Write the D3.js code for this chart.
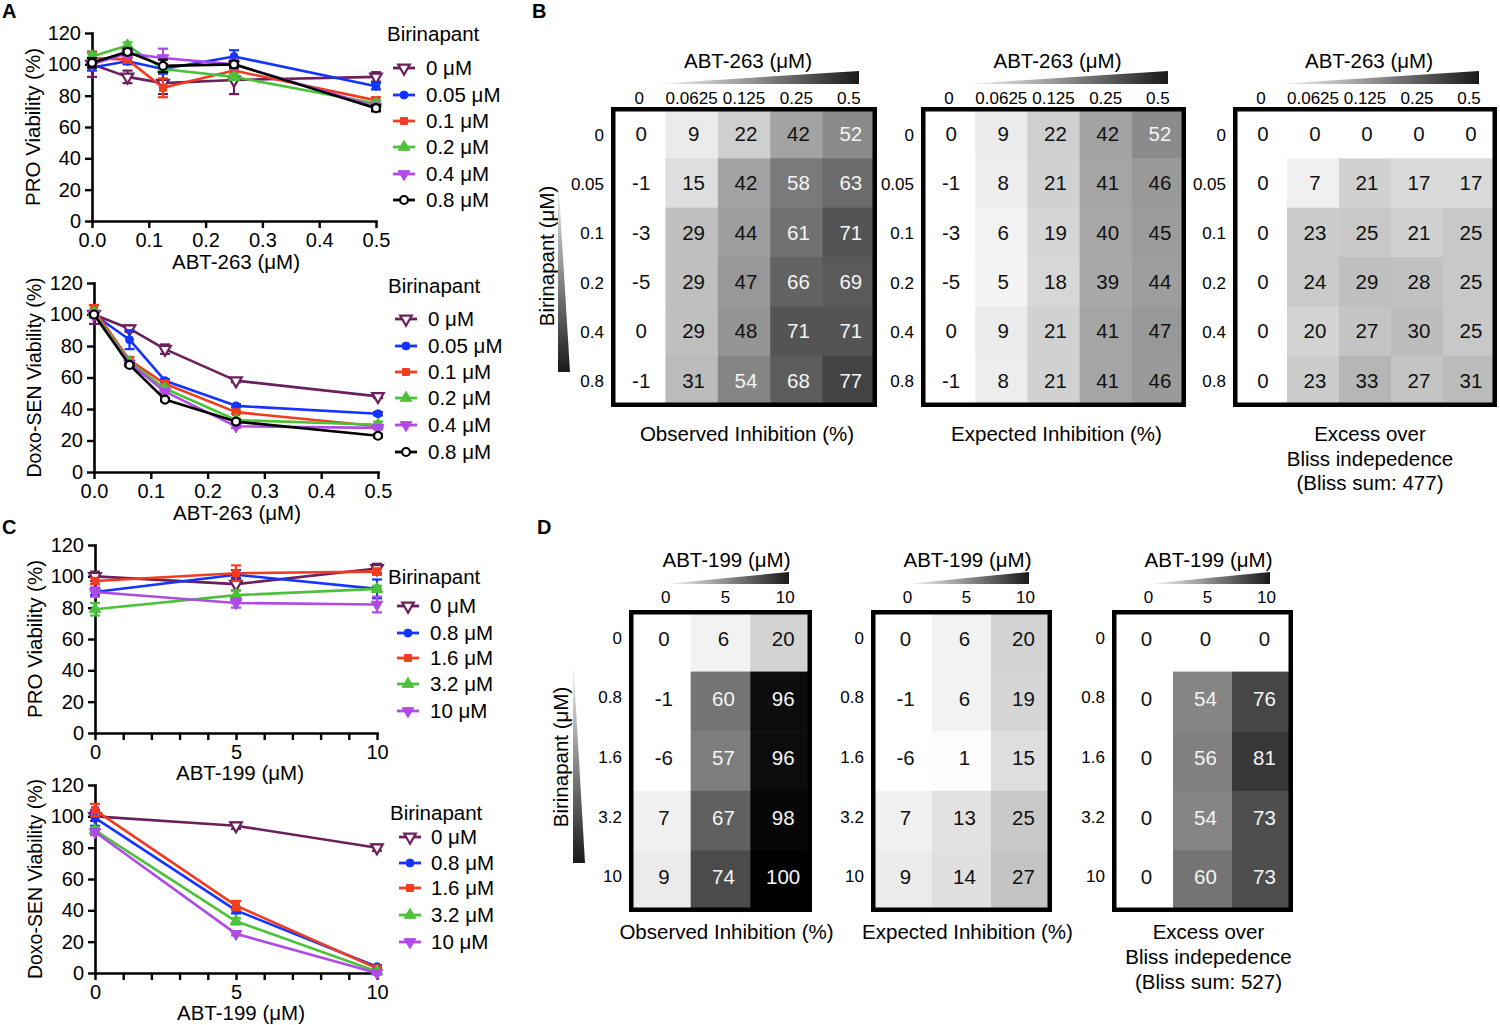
<!DOCTYPE html>
<html><head><meta charset="utf-8">
<script src="https://cdn.jsdelivr.net/npm/d3@7"></script>
<style>
body{margin:0;background:#fff;}
svg{display:block;}
</style></head><body>
<svg id="fig" width="1500" height="1025"></svg>
<script>
// ---------------- DATA ----------------
const abt263 = [0, 0.0625, 0.125, 0.25, 0.5];
const abt199 = [0, 5, 10];
const birinapantA = ["0 μM","0.05 μM","0.1 μM","0.2 μM","0.4 μM","0.8 μM"];
const birinapantC = ["0 μM","0.8 μM","1.6 μM","3.2 μM","10 μM"];
const yTicks = [0,20,40,60,80,100,120];
const abt263Ticks = [0,0.1,0.2,0.3,0.4,0.5];
const abt199Ticks = [0,1,2,3,4,5,6,7,8,9,10];
const abt199Labeled = [0,5,10];

const proA = [
 [100, 92, 88, 90, 92],
 [98, 102, 97, 105, 86],
 [104, 103, 85, 96, 77],
 [105, 112, 97, 92, 75],
 [100, 107, 104, 100, 73],
 [101, 108, 99, 100, 72]
];
const proAErr = [
 [8, 4, 7, 9, 3],
 [2, 2, 3, 4, 2],
 [4, 2, 6, 5, 2],
 [2, 2, 2, 2, 2],
 [2, 2, 6, 3, 2],
 [3, 2, 4, 2, 2]
];
const senA = [
 [100, 91, 78, 58, 48],
 [100, 84, 58, 42, 37],
 [103, 71, 56, 38, 29],
 [101, 70, 53, 33, 30],
 [100, 69, 51, 29, 28],
 [100, 68, 46, 32, 23]
];
const senAErr = [
 [6, 2, 3, 1, 1],
 [2, 6, 1, 1, 1],
 [3, 2, 2, 1, 1],
 [2, 1, 1, 1, 2],
 [2, 1, 1, 1, 1],
 [1, 1, 1, 1, 1]
];
const proC = [
 [100, 95, 105],
 [90, 101, 92],
 [97, 102, 103],
 [79, 88, 92],
 [90, 83, 82]
];
const proCErr = [[3,4,3],[2,3,6],[2,5,2],[4,3,2],[3,3,5]];
const senC = [
 [100, 94, 80],
 [99, 40, 4],
 [104, 43, 3],
 [91, 33, 1],
 [90, 25, 0]
];
const senCErr = [[3,2,2],[5,2,1],[4,3,1],[2,2,1],[2,1,1]];

const colorsA = ["#6b1f5c","#1434ff","#f03c1f","#4cc23a","#b04ae6","#000000"];
const markersA = ["tri-down-open","circle","square","triangle","tri-down","circle-open"];
const colorsC = ["#6b1f5c","#1434ff","#f03c1f","#4cc23a","#b04ae6"];
const markersC = ["tri-down-open","circle","square","triangle","tri-down"];

// heatmap data
const abt263Labels = ["0","0.0625","0.125","0.25","0.5"];
const birBLabels = ["0","0.05","0.1","0.2","0.4","0.8"];
const abt199Labels = ["0","5","10"];
const birDLabels = ["0","0.8","1.6","3.2","10"];

const obsB = [
 [0,9,22,42,52],
 [-1,15,42,58,63],
 [-3,29,44,61,71],
 [-5,29,47,66,69],
 [0,29,48,71,71],
 [-1,31,54,68,77]
];
const expB = [
 [0,9,22,42,52],
 [-1,8,21,41,46],
 [-3,6,19,40,45],
 [-5,5,18,39,44],
 [0,9,21,41,47],
 [-1,8,21,41,46]
];
const excB = [
 [0,0,0,0,0],
 [0,7,21,17,17],
 [0,23,25,21,25],
 [0,24,29,28,25],
 [0,20,27,30,25],
 [0,23,33,27,31]
];
const obsD = [[0,6,20],[-1,60,96],[-6,57,96],[7,67,98],[9,74,100]];
const expD = [[0,6,20],[-1,6,19],[-6,1,15],[7,13,25],[9,14,27]];
const excD = [[0,0,0],[0,54,76],[0,56,81],[0,54,73],[0,60,73]];

// ---------------- DRAWING ----------------
const FONT = "'Liberation Sans', Arial, Helvetica, sans-serif";
const svg = d3.select("#fig").attr("font-family", FONT);

const defs = svg.append("defs");
const hg = defs.append("linearGradient").attr("id","hgrad").attr("x1",0).attr("x2",1).attr("y1",0).attr("y2",0);
hg.append("stop").attr("offset","0").attr("stop-color","#ffffff");
hg.append("stop").attr("offset","1").attr("stop-color","#1a1a1a");
const vg = defs.append("linearGradient").attr("id","vgrad").attr("x1",0).attr("x2",0).attr("y1",0).attr("y2",1);
vg.append("stop").attr("offset","0").attr("stop-color","#ffffff");
vg.append("stop").attr("offset","1").attr("stop-color","#1a1a1a");

function drawMarker(g, type, color, cx, cy){
  const open = type.endsWith("open");
  const down = type.startsWith("tri-down");
  let sym = d3.symbolCircle, size = 50;
  if (type === "square") { sym = d3.symbolSquare; size = 48; }
  else if (type === "triangle" || down) { sym = d3.symbolTriangle; size = 58; }
  g.append("path").attr("d", d3.symbol(sym, size)())
   .attr("transform", `translate(${cx},${cy})${down ? " rotate(180)" : ""}`)
   .attr("fill", open ? "#ffffff" : color)
   .attr("stroke", color).attr("stroke-width", open ? 2.2 : 1);
}

function lineChart(c){
  const g = svg.append("g");
  const x = d3.scaleLinear().domain(c.xDomain).range([c.x0, c.x1]);
  const y = d3.scaleLinear().domain([0,120]).range([c.y0, c.y1]);
  const ax = g.append("g").attr("transform",`translate(0,${c.y0})`)
    .call(d3.axisBottom(x).tickValues(c.xTicks).tickFormat(c.xFmt).tickSize(7).tickSizeOuter(0).tickPadding(5));
  const ay = g.append("g").attr("transform",`translate(${c.x0},0)`)
    .call(d3.axisLeft(y).tickValues(yTicks).tickSize(7).tickSizeOuter(0).tickPadding(4));
  [ax, ay].forEach(a => {
    a.attr("font-family", FONT).attr("font-size", 20);
    a.select(".domain").attr("stroke","#000").attr("stroke-width",2.6).attr("stroke-linecap","square");
    a.selectAll(".tick line").attr("stroke","#000").attr("stroke-width",2.4);
    a.selectAll(".tick text").attr("fill","#000");
  });
  g.append("text").attr("x", c.xTitleX).attr("y", c.xTitleY).attr("dy","0.35em")
    .attr("text-anchor","middle").attr("font-size",20.5).text(c.xTitle);
  g.append("text").attr("transform",`translate(${c.yTitleX},${(c.y0+c.y1)/2}) rotate(-90)`)
    .attr("dy","0.35em").attr("text-anchor","middle").attr("font-size",c.yTitleSize || 20.5).text(c.yTitle);

  const line = d3.line().x(d => x(d[0])).y(d => y(d[1]));
  c.values.forEach((vals, s) => {
    const col = c.colors[s];
    const pts = c.xVals.map((xv, i) => [xv, vals[i], c.errs[s][i]]);
    g.append("path").attr("d", line(pts)).attr("fill","none").attr("stroke",col)
      .attr("stroke-width",2.6).attr("stroke-linejoin","round");
    pts.forEach(p => {
      const px = x(p[0]), ya = y(p[1]-p[2]), yb = y(p[1]+p[2]);
      g.append("line").attr("x1",px).attr("x2",px).attr("y1",ya).attr("y2",yb).attr("stroke",col).attr("stroke-width",2.2);
      [ya, yb].forEach(yy => g.append("line").attr("x1",px-5).attr("x2",px+5).attr("y1",yy).attr("y2",yy)
        .attr("stroke",col).attr("stroke-width",2.2));
    });
    pts.forEach(p => drawMarker(g, c.markers[s], col, x(p[0]), y(p[1])));
  });

  // legend
  const lg = g.append("g");
  lg.append("text").attr("x", c.legX).attr("y", c.legTitleY).attr("dy","0.35em").attr("font-size",20.5).text("Birinapant");
  c.labels.forEach((lab, i) => {
    const yy = c.legYs[i], col = c.colors[i];
    lg.append("line").attr("x1", c.legMX-11).attr("x2", c.legMX+11).attr("y1", yy).attr("y2", yy)
      .attr("stroke", col).attr("stroke-width", 2.8);
    drawMarker(lg, c.markers[i], col, c.legMX, yy);
    lg.append("text").attr("x", c.legTX).attr("y", yy).attr("dy","0.35em").attr("font-size",20.5).text(lab);
  });
}

const fmt1 = d3.format(".1f");
const fmt199 = d => abt199Labeled.includes(d) ? String(d) : "";

lineChart({x0:92, x1:376, y0:221, y1:33, xDomain:[0,0.5], xTicks:abt263Ticks, xFmt:fmt1,
  xTitle:"ABT-263 (μM)", xTitleX:236, xTitleY:262, yTitle:"PRO Viability (%)", yTitleX:33,
  xVals:abt263, values:proA, errs:proAErr, colors:colorsA, markers:markersA, labels:birinapantA,
  legX:387, legTitleY:34, legMX:404, legTX:426, legYs:[68,95,121,147,174,200]});

lineChart({x0:94, x1:378, y0:472, y1:283, xDomain:[0,0.5], xTicks:abt263Ticks, xFmt:fmt1,
  xTitle:"ABT-263 (μM)", xTitleX:237, xTitleY:513, yTitle:"Doxo-SEN Viability (%)", yTitleX:34, yTitleSize:19.5,
  xVals:abt263, values:senA, errs:senAErr, colors:colorsA, markers:markersA, labels:birinapantA,
  legX:388, legTitleY:286, legMX:406, legTX:428, legYs:[319,346,372,398,425,452]});

lineChart({x0:95, x1:377, y0:733, y1:545, xDomain:[0,10], xTicks:abt199Ticks, xFmt:fmt199,
  xTitle:"ABT-199 (μM)", xTitleX:240, xTitleY:773, yTitle:"PRO Viability (%)", yTitleX:35,
  xVals:abt199, values:proC, errs:proCErr, colors:colorsC, markers:markersC, labels:birinapantC,
  legX:388, legTitleY:577, legMX:408, legTX:430, legYs:[606,633,658,684,711]});

lineChart({x0:95, x1:377, y0:973, y1:785, xDomain:[0,10], xTicks:abt199Ticks, xFmt:fmt199,
  xTitle:"ABT-199 (μM)", xTitleX:241, xTitleY:1013, yTitle:"Doxo-SEN Viability (%)", yTitleX:35, yTitleSize:19.5,
  xVals:abt199, values:senC, errs:senCErr, colors:colorsC, markers:markersC, labels:birinapantC,
  legX:390, legTitleY:813, legMX:410, legTX:431, legYs:[837,863,888,915,942]});

// ---------- heatmaps ----------
const grayLevel = d3.scaleLinear().domain([0,50,100]).range([255,145,0]).clamp(true);
const gray = v => { const g = Math.round(grayLevel(v)); return `rgb(${g},${g},${g})`; };

function heatmap(c){
  const g = svg.append("g");
  const nR = c.data.length, nC = c.data[0].length;
  const xb = d3.scaleBand().domain(d3.range(nC)).range([c.left+2, c.right-2]);
  const yb = d3.scaleBand().domain(d3.range(nR)).range([c.top+2, c.bottom-2]);
  const cells = c.data.flatMap((row, r) => row.map((v, k) => ({r, k, v})));
  g.selectAll("rect.cell").data(cells).join("rect").attr("class","cell")
    .attr("x", d => xb(d.k)).attr("y", d => yb(d.r))
    .attr("width", xb.bandwidth()+0.6).attr("height", yb.bandwidth()+0.6)
    .attr("fill", d => gray(d.v));
  g.selectAll("text.val").data(cells).join("text").attr("class","val")
    .attr("x", d => xb(d.k) + xb.bandwidth()/2 + c.valDx)
    .attr("y", d => yb(d.r) + yb.bandwidth()/2 + c.valDy)
    .attr("dy","0.35em").attr("text-anchor","middle").attr("font-size",20.5)
    .attr("fill", d => d.v >= 50 ? "#f4f4f4" : "#111")
    .text(d => d.v);
  g.append("rect").attr("x", c.left+2.25).attr("y", c.top+2.25)
    .attr("width", c.right-c.left-4.5).attr("height", c.bottom-c.top-4.5)
    .attr("fill","none").attr("stroke","#000").attr("stroke-width",4.5);
  // column labels
  g.selectAll("text.col").data(c.colLabels).join("text").attr("class","col")
    .attr("x", (d,i) => xb(i) + xb.bandwidth()/2 + c.colDx).attr("y", c.colY)
    .attr("dy","0.35em").attr("text-anchor","middle").attr("font-size",c.colSize).text(d => d);
  // row labels
  g.selectAll("text.row").data(c.rowLabels).join("text").attr("class","row")
    .attr("x", c.left-7).attr("y", (d,i) => yb(i) + yb.bandwidth()/2 + c.rowDy)
    .attr("dy","0.35em").attr("text-anchor","end").attr("font-size",17).text(d => d);
  // title + wedge
  const cx = (c.left+c.right)/2;
  g.append("text").attr("x", cx + c.titleDx).attr("y", c.titleY).attr("dy","0.35em")
    .attr("text-anchor","middle").attr("font-size",20.5).text(c.title);
  const wl = c.left + c.wedgeL, wr = c.right - c.wedgeR;
  g.append("path").attr("d", `M${wl},${c.wedgeB} L${wr},${c.wedgeB} L${wr},${c.wedgeB - c.wedgeH} Z`)
    .attr("fill","url(#hgrad)");
  // captions
  c.caption.forEach((t, i) => g.append("text").attr("x", cx + c.capDx).attr("y", c.capY + i*c.capStep)
    .attr("dy","0.35em").attr("text-anchor","middle").attr("font-size",20.5).text(t));
}

const bLefts = [611, 921, 1233], bRights = [877, 1186, 1497];
const bData = [obsB, expB, excB];
const bCaps = [["Observed Inhibition (%)"],["Expected Inhibition (%)"],["Excess over","Bliss indepedence","(Bliss sum: 477)"]];
bData.forEach((d, i) => heatmap({
  left:bLefts[i], right:bRights[i], top:107, bottom:407, data:d,
  colLabels:abt263Labels, rowLabels:birBLabels, colY:98, colDx:0, colSize:17, rowDy:1,
  valDx:2, valDy:0, title:"ABT-263 (μM)", titleY:61, titleDx:4,
  wedgeL:42, wedgeR:18, wedgeB:84, wedgeH:13,
  caption:bCaps[i], capY:434, capStep:24.5, capDx:i===2?5:3
}));

const dLefts = [629, 871, 1112], dRights = [812, 1052, 1293];
const dData = [obsD, expD, excD];
const dCaps = [["Observed Inhibition (%)"],["Expected Inhibition (%)"],["Excess over","Bliss indepedence","(Bliss sum: 527)"]];
dData.forEach((d, i) => heatmap({
  left:dLefts[i], right:dRights[i], top:610, bottom:912, data:d,
  colLabels:abt199Labels, rowLabels:birDLabels, colY:597, colDx:5, colSize:17, rowDy:-4,
  valDx:3, valDy:-3, title:"ABT-199 (μM)", titleY:560, titleDx:6,
  wedgeL:35, wedgeR:23, wedgeB:584, wedgeH:12,
  caption:dCaps[i], capY:932, capStep:25, capDx:6
}));

// vertical Birinapant labels + wedges
function vLabel(x, y, wx, wy0, wy1){
  svg.append("text").attr("transform",`translate(${x},${y}) rotate(-90)`).attr("dy","0.35em")
    .attr("text-anchor","middle").attr("font-size",20.5).text("Birinapant (μM)");
  svg.append("path").attr("d", `M${wx},${wy0} L${wx},${wy1} L${wx+12},${wy1} Z`).attr("fill","url(#vgrad)");
}
vLabel(547, 256, 558, 175, 372);
vLabel(561, 757, 573, 657, 863);

// panel letters
[["A",2,18],["B",532,18],["C",2,534],["D",537,534]].forEach(p =>
  svg.append("text").attr("x",p[1]).attr("y",p[2]).attr("font-size",20).attr("font-weight","bold").text(p[0]));
</script>
</body></html>
